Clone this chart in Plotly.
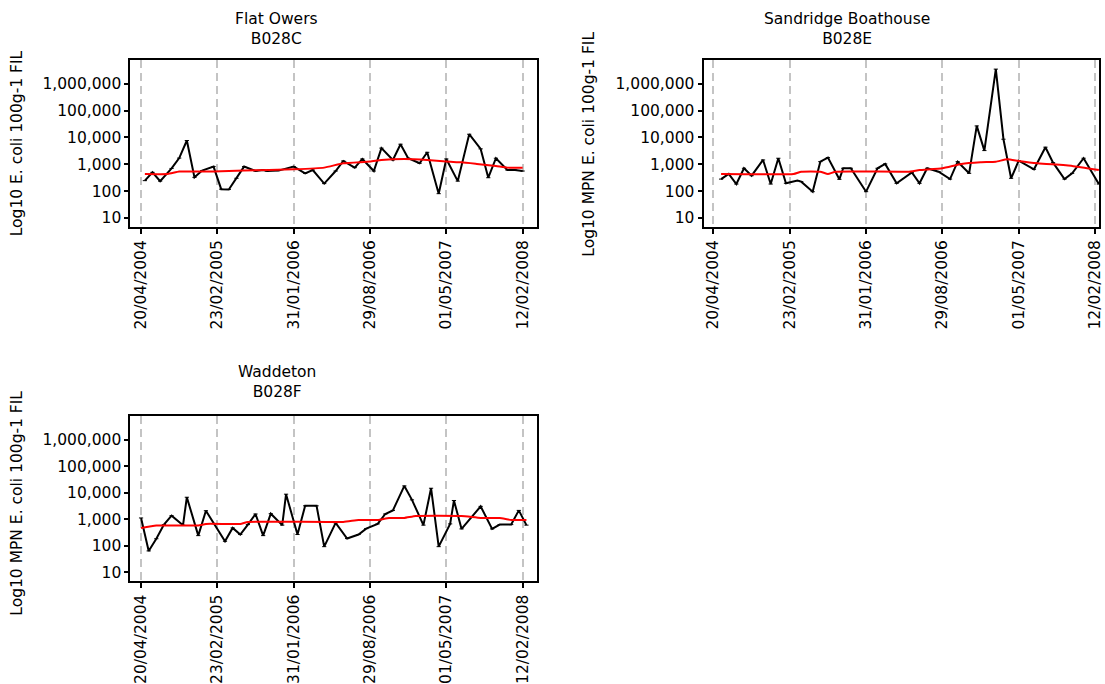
import plotly.graph_objects as go

# ---------------- data ----------------
tick_slots = [0, 20, 40, 60, 80, 100]
tick_labels = ["20/04/2004", "23/02/2005", "31/01/2006", "29/08/2006", "01/05/2007", "12/02/2008"]
y_tick_vals = [10, 100, 1000, 10000, 100000, 1000000]
y_tick_text = ["10", "100", "1,000", "10,000", "100,000", "1,000,000"]

# Flat Owers B028C
fo_slots = [1, 3, 5, 8, 10, 12, 14, 16, 19, 21, 23, 25, 27, 30, 32, 33, 36, 40, 43, 45, 48,
            51, 53, 56, 58, 61, 63, 66, 68, 70, 73, 75, 78, 80, 83, 86, 89, 91, 93, 96, 98, 100]
fo_values = [245, 500, 235, 700, 1700, 7700, 325, 580, 820, 118, 115, 300, 820, 560, 610, 560,
             580, 820, 460, 610, 190, 560, 1330, 750, 1580, 560, 4000, 1450, 5600, 1680, 1090,
             2800, 80, 1580, 235, 13200, 3750, 315, 1680, 610, 610, 560]
fo_trend_slots = [1, 7, 10, 19, 27, 40, 48, 53, 60, 63, 69, 75, 80, 84, 88, 93, 96, 100]
fo_trend_values = [433, 433, 535, 535, 580, 650, 750, 1090, 1260, 1450, 1580, 1450, 1260, 1180,
                   1030, 860, 750, 750]

# Sandridge Boathouse B028E
sb_slots = [2, 4, 6, 8, 10, 13, 15, 17, 19, 22, 23, 26, 28, 30, 33, 34, 36, 40, 43, 45, 48,
            52, 54, 56, 59, 62, 64, 67, 69, 71, 74, 76, 78, 80, 84, 87, 89, 92, 94, 97, 101]
sb_values = [280, 435, 183, 710, 375, 1450, 183, 1680, 195, 245, 225, 95, 1250, 1770, 275, 710,
             710, 95, 710, 1030, 195, 500, 195, 710, 530, 280, 1250, 460, 27000, 3240, 3550000,
             8600, 300, 1360, 650, 4340, 1150, 280, 460, 1680, 183]
sb_trend_slots = [2, 21, 23, 28, 30, 32, 51, 54, 60, 65, 70, 74, 77, 80, 85, 94, 101]
sb_trend_values = [435, 435, 530, 530, 435, 530, 530, 610, 710, 1030, 1190, 1250, 1540, 1330,
                   1090, 870, 610]

# Waddeton B028F
wd_slots = [0, 2, 4, 6, 8, 11, 12, 15, 17, 22, 24, 26, 28, 30, 32, 34, 37, 38, 41, 43, 46, 48,
            51, 54, 57, 59, 62, 64, 66, 69, 71, 74, 76, 78, 81, 82, 84, 89, 92, 94, 97, 99, 101]
wd_values = [1140, 65, 187, 640, 1390, 610, 6900, 245, 2140, 150, 480, 270, 640, 1610, 245, 1650,
             610, 9000, 270, 3270, 3270, 94, 740, 190, 270, 450, 680, 1610, 2200, 18500, 5500,
             610, 15100, 94, 680, 5200, 440, 3120, 440, 640, 640, 2200, 610]
wd_trend_slots = [0, 4, 15, 17, 26, 28, 53, 57, 62, 65, 69, 72, 84, 89, 94, 97, 101]
wd_trend_values = [480, 590, 590, 680, 680, 810, 810, 960, 960, 1140, 1140, 1350, 1350, 1140,
                   1140, 960, 960]

panels = [
    dict(title="Flat Owers<br>B028C", ytitle="Log10 E. coli 100g-1 FIL",
         xs=fo_slots, ys=fo_values, tx=fo_trend_slots, ty=fo_trend_values),
    dict(title="Sandridge Boathouse<br>B028E", ytitle="Log10 MPN E. coli 100g-1 FIL",
         xs=sb_slots, ys=sb_values, tx=sb_trend_slots, ty=sb_trend_values),
    dict(title="Waddeton<br>B028F", ytitle="Log10 MPN E. coli 100g-1 FIL",
         xs=wd_slots, ys=wd_values, tx=wd_trend_slots, ty=wd_trend_values),
]

# ---------------- layout geometry ----------------
W, H = 1105, 684
FONT = "DejaVu Sans"
FS = 15.5

geom = [
    dict(x0=131, x1=539, y0=60, y1=228, xr=[-2.79, 103.65], tcx=278, tcy=29, ytx=17, yty=144),
    dict(x0=706.7, x1=1104, y0=60, y1=228, xr=[-2.61, 101.04], tcx=851, tcy=29, ytx=592, yty=145),
    dict(x0=131, x1=539, y0=418, y1=584, xr=[-2.79, 103.65], tcx=278, tcy=384, ytx=17, yty=505),
]

fig = go.Figure()
annotations = []
for i, (p, g) in enumerate(zip(panels, geom)):
    n = "" if i == 0 else str(i + 1)
    xa, ya = "x" + n, "y" + n
    fig.add_trace(go.Scatter(
        x=p["xs"], y=p["ys"], xaxis=xa, yaxis=ya, mode="lines+markers",
        line=dict(color="black", width=2),
        marker=dict(symbol="line-ew", size=3, line=dict(color="black", width=1)),
        showlegend=False, cliponaxis=True))
    fig.add_trace(go.Scatter(
        x=p["tx"], y=p["ty"], xaxis=xa, yaxis=ya, mode="lines",
        line=dict(color="#ff0000", width=2, shape="spline", smoothing=0.4),
        showlegend=False))
    fig.layout["xaxis" + n] = dict(
        domain=[g["x0"] / W, g["x1"] / W], anchor=ya, range=g["xr"],
        tickmode="array", tickvals=tick_slots, ticktext=tick_labels, tickangle=-90,
        ticks="outside", ticklen=5, tickwidth=1.5, tickcolor="black",
        ticklabeloverflow="allow",
        showline=True, linewidth=2, linecolor="black", mirror=True,
        showgrid=True, gridcolor="#c4c4c4", gridwidth=2, griddash="8px,5px",
        zeroline=False, tickfont=dict(family=FONT, size=FS, color="black"))
    fig.layout["yaxis" + n] = dict(
        domain=[1 - g["y1"] / H, 1 - g["y0"] / H], anchor=xa, type="log",
        range=[0.66, 6.9], tickmode="array", tickvals=y_tick_vals, ticktext=y_tick_text,
        ticks="outside", ticklen=4, tickwidth=1.5, tickcolor="black",
        showline=True, linewidth=2, linecolor="black", mirror=True,
        showgrid=False, zeroline=False,
        tickfont=dict(family=FONT, size=FS, color="black"))
    annotations.append(dict(
        text=p["title"], x=g["tcx"] / W, y=1 - g["tcy"] / H, xref="paper", yref="paper",
        xanchor="center", yanchor="middle", showarrow=False,
        font=dict(family=FONT, size=FS, color="black")))
    annotations.append(dict(
        text=p["ytitle"], x=g["ytx"] / W, y=1 - g["yty"] / H, xref="paper", yref="paper",
        xanchor="center", yanchor="middle", showarrow=False, textangle=-90,
        font=dict(family=FONT, size=FS, color="black")))

fig.update_layout(
    width=W, height=H, margin=dict(l=0, r=0, t=0, b=0),
    paper_bgcolor="white", plot_bgcolor="white",
    annotations=annotations, showlegend=False)

fig.write_html("out.html")
